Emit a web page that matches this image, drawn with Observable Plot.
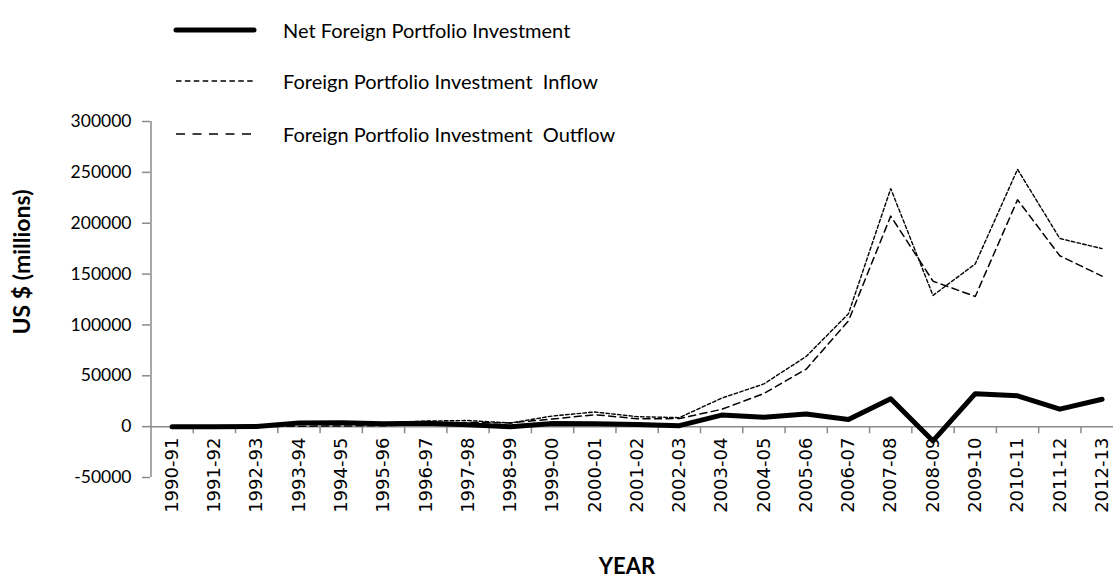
<!DOCTYPE html>
<html><head><meta charset="utf-8">
<script src="https://cdn.jsdelivr.net/npm/d3@7"></script>
<script src="https://cdn.jsdelivr.net/npm/@observablehq/plot@0.6"></script>
<style>
body{margin:0;background:#fff}
#wrap{position:relative;width:1113px;height:578px;overflow:hidden}
#overlay{position:absolute;left:0;top:0;pointer-events:none}
</style>
</head><body>
<div id="wrap"></div>
<script>
// Data (US $ millions)
const categories = ["1990-91","1991-92","1992-93","1993-94","1994-95","1995-96","1996-97","1997-98","1998-99","1999-00","2000-01","2001-02","2002-03","2003-04","2004-05","2005-06","2006-07","2007-08","2008-09","2009-10","2010-11","2011-12","2012-13"];
const netFPI  = [6, 4, 244, 3567, 3824, 2748, 3312, 1828, -61, 3026, 2760, 2021, 979, 11377, 9291, 12492, 6947, 27433, -14030, 32396, 30293, 17171, 26891];
const inflow  = [100, 200, 400, 4000, 4500, 3600, 5500, 6000, 3600, 10500, 14400, 9800, 8900, 28000, 42000, 69000, 111000, 234000, 129000, 160000, 253000, 185000, 175000];
const outflow = [100, 200, 150, 400, 700, 900, 2200, 4200, 3700, 7500, 11700, 7800, 7900, 17000, 32500, 56500, 104000, 207000, 143000, 128000, 223000, 168000, 148000];
const yTicks = [-50000, 0, 50000, 100000, 150000, 200000, 250000, 300000];
const seriesNames = ["Net Foreign Portfolio Investment", "Foreign Portfolio Investment  Inflow", "Foreign Portfolio Investment  Outflow"];
const xTitle = "YEAR";
const yTitle = "US $ (millions)";

const rows = categories.map((c, i) => ({i, cat: c, net: netFPI[i], inflow: inflow[i], outflow: outflow[i]}));
const gray = "#8a8a8a";
const step = 42.27;
const x0 = 150.5;

const chart = Plot.plot({
  width: 1113, height: 578,
  marginTop: 121, marginBottom: 101, marginLeft: 150, marginRight: 0,
  style: {fontFamily: "Lato, sans-serif", background: "#fff", color: "#000"},
  x: {type: "linear", domain: [-0.5, categories.length - 0.5], range: [x0, x0 + categories.length * step], axis: null},
  y: {domain: [-50000, 300000], axis: null},
  marks: [
    Plot.ruleY([0], {stroke: gray, strokeWidth: 1.5}),
    Plot.ruleX(d3.range(0.5, categories.length, 1), {x: d => d, y1: 0, y2: -7000, stroke: gray, strokeWidth: 1.5}),
    Plot.axisY({ticks: yTicks, tickFormat: d => String(d), tickSize: 8, tickPadding: 11, fontSize: 17.5, stroke: gray, strokeWidth: 1.5, fill: "#000", label: null}),
    Plot.ruleX([-0.5], {y1: -50000, y2: 300000, stroke: gray, strokeWidth: 1.5}),
    Plot.text(rows, {x: "i", y: 0, text: "cat", rotate: -90, textAnchor: "end", lineAnchor: "middle", dy: 11, fontSize: 18, fontFamily: "DejaVu Sans", fill: "#000"}),
    Plot.lineY(rows, {x: "i", y: "net", stroke: "#000", strokeWidth: 5, strokeLinecap: "round", strokeLinejoin: "round"}),
    Plot.lineY(rows, {x: "i", y: "inflow", stroke: "#000", strokeWidth: 1.4, strokeDasharray: "3.5,2.3"}),
    Plot.lineY(rows, {x: "i", y: "outflow", stroke: "#000", strokeWidth: 1.5, strokeDasharray: "7,4.5"})
  ]
});
const wrap = document.getElementById("wrap");
wrap.appendChild(chart);

// Legend and axis titles overlay
const ns = "http://www.w3.org/2000/svg";
const ov = document.createElementNS(ns, "svg");
ov.setAttribute("id", "overlay");
ov.setAttribute("width", 1113);
ov.setAttribute("height", 578);
const legendY = [30, 81, 134];
const legendStyles = [
  {w: 5, dash: null},
  {w: 1.4, dash: "5.5,3.4"},
  {w: 1.6, dash: "9,7.5"}
];
seriesNames.forEach((name, k) => {
  const ln = document.createElementNS(ns, "line");
  ln.setAttribute("x1", 176); ln.setAttribute("x2", 254);
  ln.setAttribute("y1", legendY[k]); ln.setAttribute("y2", legendY[k]);
  ln.setAttribute("stroke", "#000");
  ln.setAttribute("stroke-width", legendStyles[k].w);
  if (legendStyles[k].dash) ln.setAttribute("stroke-dasharray", legendStyles[k].dash);
  else ln.setAttribute("stroke-linecap", "round");
  ov.appendChild(ln);
  const t = document.createElementNS(ns, "text");
  t.setAttribute("x", 283); t.setAttribute("y", legendY[k]);
  t.setAttribute("dominant-baseline", "central");
  t.setAttribute("font-family", "Lato, sans-serif");
  t.setAttribute("font-size", 20);
  t.style.whiteSpace = "pre";
  t.textContent = name;
  ov.appendChild(t);
});
const xt = document.createElementNS(ns, "text");
xt.setAttribute("x", 627); xt.setAttribute("y", 565);
xt.setAttribute("text-anchor", "middle");
xt.setAttribute("dominant-baseline", "central");
xt.setAttribute("font-family", "Lato, sans-serif");
xt.setAttribute("font-weight", "bold");
xt.setAttribute("font-size", 22);
xt.textContent = xTitle;
ov.appendChild(xt);
const yt = document.createElementNS(ns, "text");
yt.setAttribute("transform", "translate(21,262) rotate(-90)");
yt.setAttribute("text-anchor", "middle");
yt.setAttribute("dominant-baseline", "central");
yt.setAttribute("font-family", "Lato, sans-serif");
yt.setAttribute("font-weight", "bold");
yt.setAttribute("font-size", 23);
yt.textContent = yTitle;
ov.appendChild(yt);
wrap.appendChild(ov);
</script>
</body></html>
